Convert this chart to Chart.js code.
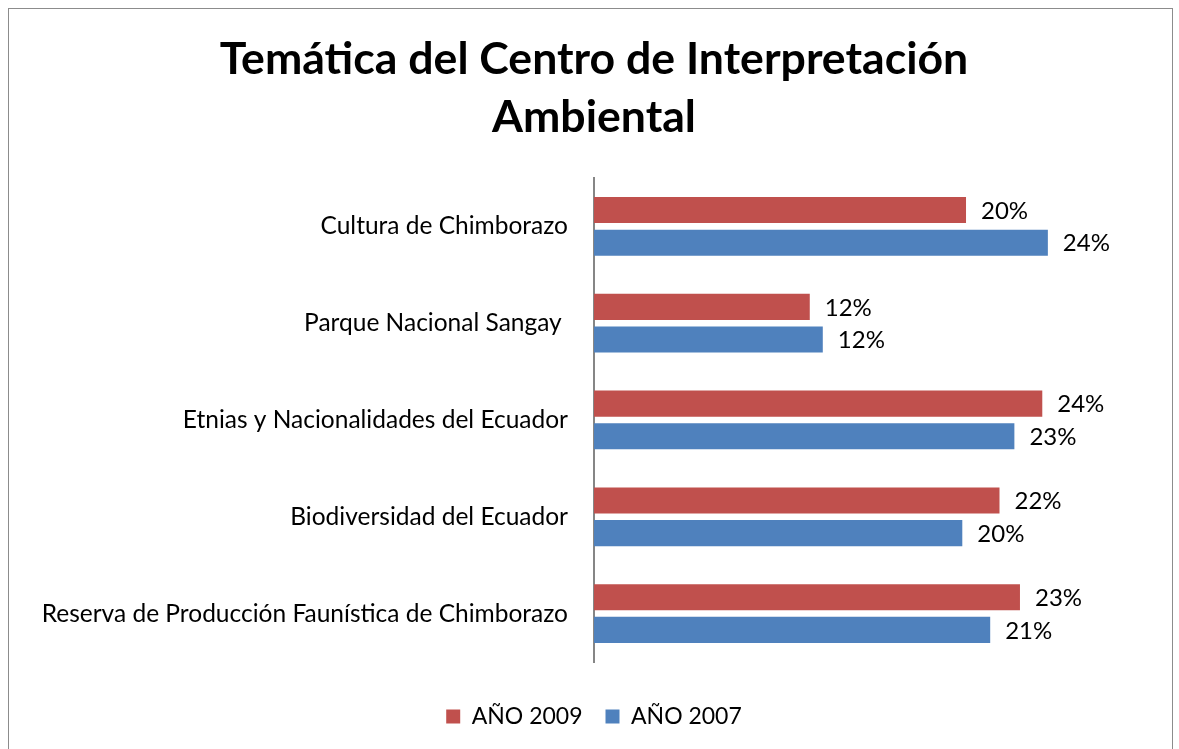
<!DOCTYPE html>
<html>
<head>
<meta charset="utf-8">
<script src="https://cdn.jsdelivr.net/npm/chart.js@4/dist/chart.umd.min.js"></script>
<style>
  html, body { margin: 0; padding: 0; background: #fff; overflow: hidden; }
  #wrap { position: relative; width: 1179px; height: 749px; }
  #frame { position: absolute; left: 8px; top: 8px; width: 1165px; height: 760px; border: 1px solid #8c8c8c; box-sizing: border-box; pointer-events: none; }
  canvas { position: absolute; left: 0; top: 0; }
</style>
</head>
<body>
<div id="wrap">
  <canvas id="c" width="1179" height="749"></canvas>
  <div id="frame"></div>
</div>
<script>
const categories = [
  'Cultura de Chimborazo',
  'Parque Nacional Sangay ',
  'Etnias y Nacionalidades del Ecuador',
  'Biodiversidad del Ecuador',
  'Reserva de Producción Faunística de Chimborazo'
];
const seriesNames = ['AÑO 2009', 'AÑO 2007'];
const values2009 = [20.0, 11.6, 24.1, 21.8, 22.9];
const values2007 = [24.4, 12.3, 22.6, 19.8, 21.3];
const titleLines = ['Temática del Centro de Interpretación', 'Ambiental'];

const FONT = 'Lato, "Open Sans", sans-serif';

const dataLabels = {
  id: 'dataLabels',
  afterDatasetsDraw(chart) {
    const ctx = chart.ctx;
    ctx.save();
    ctx.font = '24px ' + FONT;
    ctx.fillStyle = '#000';
    ctx.textAlign = 'left';
    ctx.textBaseline = 'middle';
    chart.data.datasets.forEach((ds, di) => {
      const meta = chart.getDatasetMeta(di);
      meta.data.forEach((bar, i) => {
        ctx.fillText(Math.round(ds.data[i]) + '%', bar.x + 15, bar.y + 1);
      });
    });
    ctx.restore();
  }
};

new Chart(document.getElementById('c'), {
  type: 'bar',
  data: {
    labels: categories,
    datasets: [
      { label: seriesNames[0], data: values2009, backgroundColor: '#C0504D', borderWidth: 0 },
      { label: seriesNames[1], data: values2007, backgroundColor: '#4F81BD', borderWidth: 0 }
    ]
  },
  options: {
    indexAxis: 'y',
    responsive: false,
    animation: false,
    categoryPercentage: 0.674,
    barPercentage: 0.8,
    layout: { padding: { left: 9, right: 0, top: 0, bottom: 11 } },
    scales: {
      x: {
        min: 0, max: 31.45,
        display: true,
        grid: { display: false },
        border: { display: false },
        ticks: { display: false },
        afterFit: s => { s.height = 20; }
      },
      y: {
        grid: { display: false, drawTicks: false },
        border: { display: true, color: '#868686', width: 2 },
        ticks: { color: '#000', font: { family: FONT, size: 24.5 }, padding: 26 },
        afterFit: s => { s.width = 585; }
      }
    },
    plugins: {
      title: {
        display: true,
        text: titleLines,
        color: '#000',
        font: { family: FONT, size: 44.6, weight: 'bold', lineHeight: 1.3 },
        padding: { top: 31, bottom: 31 }
      },
      legend: {
        position: 'bottom',
        labels: {
          color: '#000',
          font: { family: FONT, size: 23 },
          boxWidth: 14, boxHeight: 14,
          padding: 23
        }
      },
      tooltip: { enabled: false }
    }
  },
  plugins: [dataLabels]
});
</script>
</body>
</html>
